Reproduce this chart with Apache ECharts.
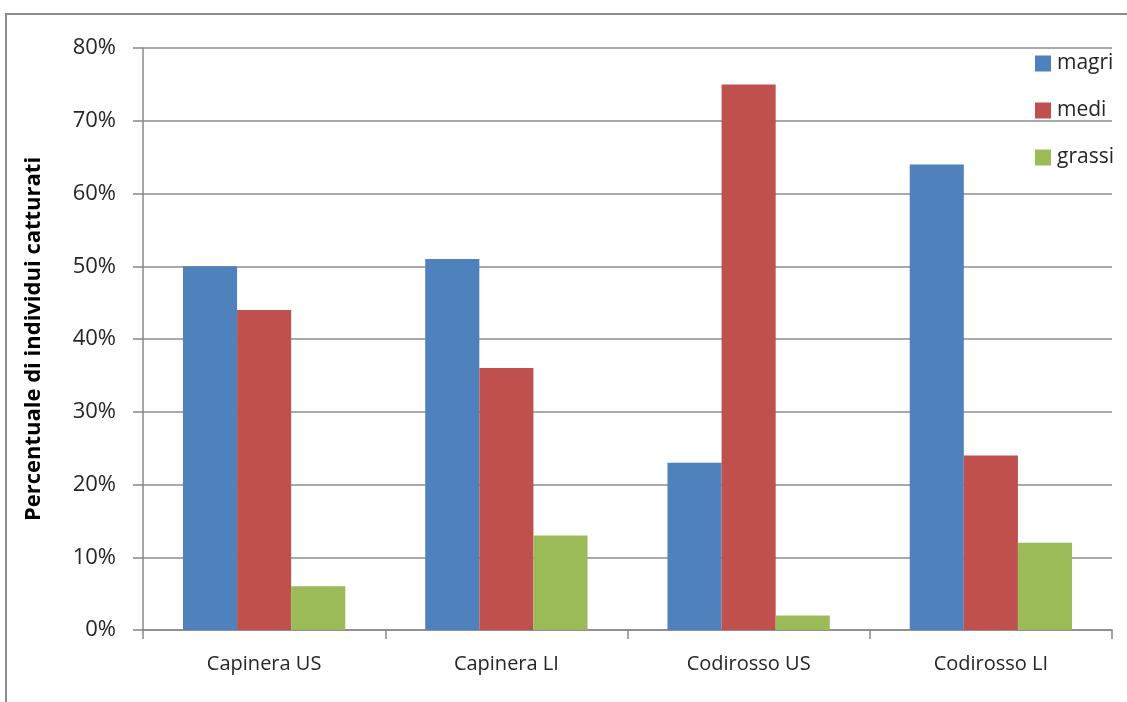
<!DOCTYPE html>
<html>
<head>
<meta charset="utf-8">
<script src="https://cdn.jsdelivr.net/npm/echarts@6/dist/echarts.min.js"></script>
<style>
  html, body { margin: 0; padding: 0; background: #fff; }
  #frame { position: absolute; left: 5px; top: 13px; width: 1140px; height: 720px; border: 2px solid #8c8c8c; box-sizing: border-box; }
  #chart { position: absolute; left: 0; top: 0; width: 1127px; height: 702px; }
</style>
</head>
<body>
<div id="frame"></div>
<div id="chart"></div>
<script>
// Categories, series and axis ticks
const categories = ['Capinera US', 'Capinera LI', 'Codirosso US', 'Codirosso LI'];
const magri = [50, 51, 23, 64];
const medi = [44, 36, 75, 24];
const grassi = [6, 13, 2, 12];
const yTicks = [0, 10, 20, 30, 40, 50, 60, 70, 80];

const font = '"Open Sans", "DejaVu Sans", sans-serif';
const chart = echarts.init(document.getElementById('chart'), null, { renderer: 'canvas' });

function barSeries(name, data, color) {
  return {
    name: name,
    type: 'bar',
    data: data,
    barGap: '0%',
    barCategoryGap: '33%',
    itemStyle: { color: color },
    emphasis: { disabled: true }
  };
}

chart.setOption({
  animation: false,
  backgroundColor: 'transparent',
  textStyle: { fontFamily: font },
  grid: { left: 143, right: 15, top: 48, bottom: 72, containLabel: false },
  legend: {
    orient: 'vertical',
    left: 1030,
    top: 48,
    itemWidth: 16,
    itemHeight: 16,
    itemGap: 26,
    icon: 'rect',
    textStyle: { fontFamily: font, fontSize: 21, lineHeight: 16, color: '#262626', padding: [0, 0, 0, 1] },
    data: ['magri', 'medi', 'grassi']
  },
  xAxis: {
    type: 'category',
    data: categories,
    axisLine: { lineStyle: { color: '#888', width: 1.5 } },
    axisTick: { show: true, length: 9, lineStyle: { color: '#888', width: 1.5 } },
    axisLabel: { fontFamily: font, fontSize: 20, color: '#262626', margin: 24 }
  },
  yAxis: {
    type: 'value',
    min: 0,
    max: 80,
    interval: 10,
    name: 'Percentuale di individui catturati',
    nameLocation: 'middle',
    nameGap: 98,
    nameTextStyle: { fontFamily: font, fontSize: 22, fontWeight: 'bold', color: '#000' },
    axisLine: { show: true, lineStyle: { color: '#888', width: 1.5 } },
    axisTick: { show: true, inside: false, length: 10, lineStyle: { color: '#888', width: 1.5 } },
    axisLabel: {
      fontFamily: font, fontSize: 22, color: '#262626', margin: 27,
      formatter: function (v) { return yTicks.indexOf(v) >= 0 ? v + '%' : ''; }
    },
    splitLine: { show: true, lineStyle: { color: '#8c8c8c', width: 1.5 } }
  },
  series: [
    barSeries('magri', magri, '#4F81BD'),
    barSeries('medi', medi, '#C0504D'),
    barSeries('grassi', grassi, '#9BBB59')
  ]
});
</script>
</body>
</html>
